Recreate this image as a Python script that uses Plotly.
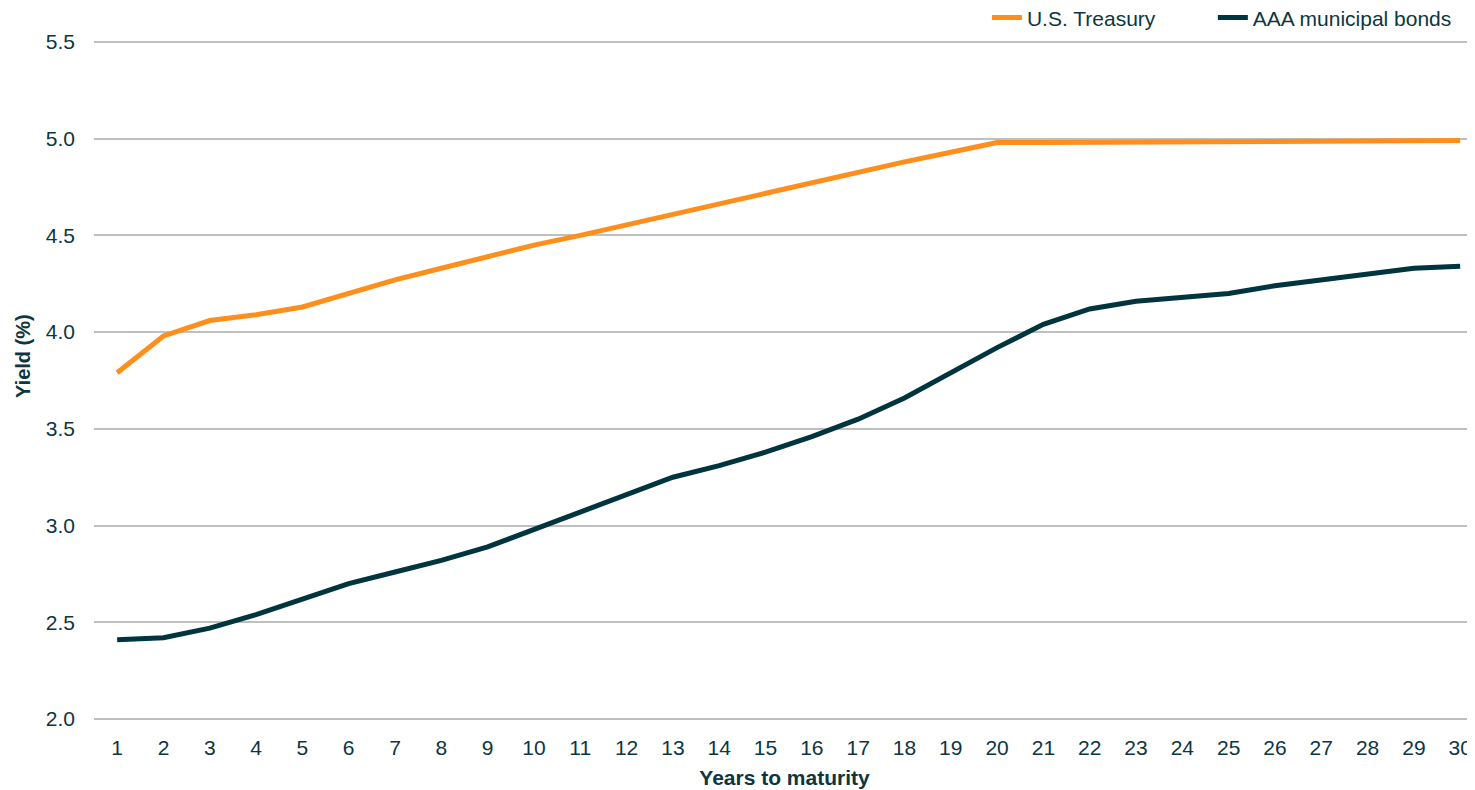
"""
Yield curve: U.S. Treasury vs AAA municipal bonds.
"""

import plotly.graph_objects as go

years = list(range(1, 31))

treasury = [3.79, 3.98, 4.06, 4.09, 4.13, 4.20, 4.27, 4.33, 4.39, 4.45,
            4.50, 4.555, 4.61, 4.665, 4.72, 4.775, 4.83, 4.88, 4.93, 4.98,
            4.98, 4.982, 4.983, 4.984, 4.985, 4.986, 4.987, 4.988, 4.989, 4.99]

municipal = [2.41, 2.42, 2.47, 2.54, 2.62, 2.70, 2.76, 2.82, 2.89, 2.98,
             3.07, 3.16, 3.25, 3.31, 3.38, 3.46, 3.55, 3.66, 3.79, 3.92,
             4.04, 4.12, 4.16, 4.18, 4.20, 4.24, 4.27, 4.30, 4.33, 4.34]

y_ticks = [2.0, 2.5, 3.0, 3.5, 4.0, 4.5, 5.0, 5.5]

ORANGE = '#ff8f1c'
DARK = '#00343e'
TEXT = '#0d3640'
FONT = 'Liberation Sans, Arial, sans-serif'

fig = go.Figure()

# trailing no-break spaces widen the gap between the two legend entries
fig.add_trace(go.Scatter(
    x=years,
    y=treasury,
    mode='lines',
    name='U.S. Treasury' + '\u00a0' * 9,
    line=dict(color=ORANGE, width=5)
))

fig.add_trace(go.Scatter(
    x=years,
    y=municipal,
    mode='lines',
    name='AAA municipal bonds',
    line=dict(color=DARK, width=5)
))

# page body has an 8px margin, so the figure is sized/offset to make up for it
fig.update_layout(
    width=1467,
    height=782,
    margin=dict(l=86, r=0, t=32, b=69, autoexpand=False),
    plot_bgcolor='white',
    paper_bgcolor='white',
    font=dict(family=FONT, size=21, color=TEXT),
    legend=dict(
        orientation='h',
        x=0.6466,
        xanchor='left',
        y=1.0324,
        yanchor='middle',
        bgcolor='rgba(0,0,0,0)',
        font=dict(size=21, color=TEXT),
        itemwidth=30,
        tracegroupgap=0,
    ),
    xaxis=dict(
        range=[0.5, 30.32],
        tickmode='array',
        tickvals=years,
        ticktext=[str(v) for v in years],
        showgrid=False,
        zeroline=False,
        showline=False,
        ticks='',
        ticklabelstandoff=12,
        automargin=False,
        title=dict(text='<b>Years to maturity</b>', standoff=12,
                   font=dict(size=21, color=TEXT)),
    ),
    yaxis=dict(
        range=[1.99, 5.51],
        tickmode='array',
        tickvals=y_ticks,
        ticktext=[f'{v:.1f}' for v in y_ticks],
        showgrid=True,
        gridcolor='#bfbfbf',
        gridwidth=1.5,
        zeroline=False,
        showline=False,
        ticks='',
        ticklabelstandoff=18,
        automargin=False,
    ),
    showlegend=True,
)

# y-axis title sits a bit above the plot's middle, as in the source chart
fig.add_annotation(
    text='<b>Yield (%)</b>',
    textangle=-90,
    xref='paper', yref='paper',
    x=-0.0514, y=0.536,
    xanchor='center', yanchor='middle',
    showarrow=False,
    font=dict(size=20, color=TEXT),
)

fig.write_html("out.html")
